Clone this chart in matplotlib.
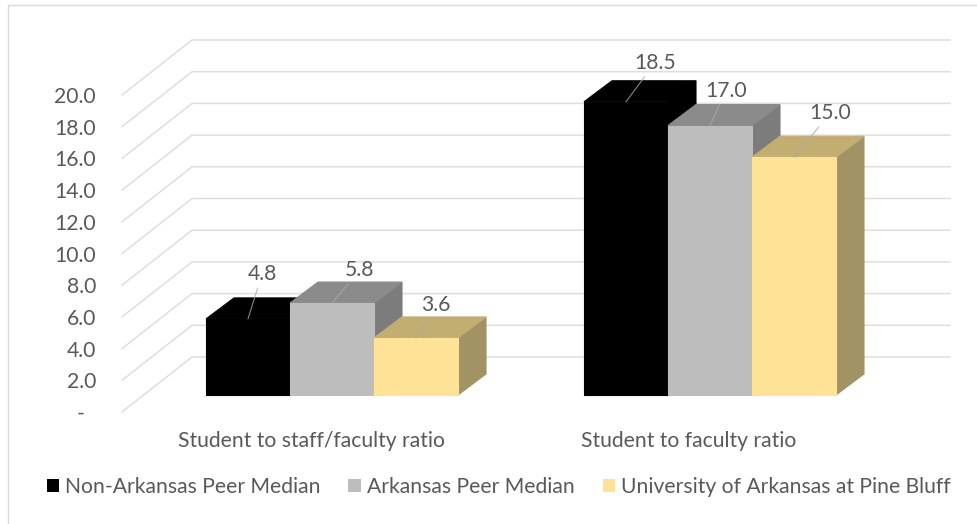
import numpy as np
import matplotlib
matplotlib.use('Agg')
import matplotlib.pyplot as plt
from matplotlib.patches import Polygon, Patch

categories = ['Student to staff/faculty ratio', 'Student to faculty ratio']
series_names = ['Non-Arkansas Peer Median', 'Arkansas Peer Median',
                'University of Arkansas at Pine Bluff']
non_arkansas = [4.8, 18.5]
arkansas = [5.8, 17.0]
uapb = [3.6, 15.0]
y_ticks = [0, 2, 4, 6, 8, 10, 12, 14, 16, 18, 20]

# front, top, side face of each series
colors = [('#000000', '#000000', '#000000'),
          ('#BDBDBD', '#8B8B8B', '#7C7C7C'),
          ('#FEE397', '#C3AE71', '#A29364')]
# label offset from the middle of the bar's front top edge, in pixels
label_offsets = [[(14, 45), (28, 33), (20, 33)],
                 [(29, 39), (16, 35), (36, 44)]]

W, H = 977, 524
PX_X = 378.0      # pixels between the two groups
PX_Y = 15.85      # pixels per unit of value
GREY = '#595959'
GRID = '#DEDEDE'
FS = 15.2

# the chart is a fake 3d one, so depth is just an offset in data units
bar_w = 84 / PX_X
depth_x, depth_y = 28 / PX_X, 21 / PX_Y
floor_x, floor_y = 70 / PX_X, 55 / PX_Y
floor_front = -17 / PX_Y
wall_left = (122 - 332) / PX_X + floor_x
wall_right = (950 - 332) / PX_X

plt.rcParams['font.family'] = ['Lato', 'DejaVu Sans']

fig = plt.figure(figsize=(W / 100, H / 100), dpi=100)
ax = fig.add_axes([0, 0, 1, 1])
ax.set_xlim(-332 / PX_X, (W - 332) / PX_X)
ax.set_ylim(395 / PX_Y - H / PX_Y, 395 / PX_Y)
ax.axis('off')

# picture frame, left and top only
ax.plot([8 / W, 8 / W, 1], [0, 1 - 5 / H, 1 - 5 / H], transform=ax.transAxes,
        color='#DADADA', lw=1)

# gridlines on the wall and floor
for v in y_ticks:
    y0 = v + floor_front
    ax.plot([wall_left - floor_x, wall_left, wall_right],
            [y0, y0 + floor_y, y0 + floor_y], color=GRID, lw=1.1, zorder=1,
            solid_joinstyle='miter')
    label = '-' if v == 0 else '%.1f' % v
    ax.text(wall_left - floor_x - (26 if v else 37) / PX_X, y0 - 2 / PX_Y, label, ha='right',
            va='center', fontsize=FS, color=GREY)

# bars
all_values = [non_arkansas, arkansas, uapb]
for g in range(len(categories)):
    for s, values in enumerate(all_values):
        v = values[g]
        x0 = g + (s - 1.5) * bar_w
        x1 = x0 + bar_w
        front, top, side = colors[s]
        z = 2 + s
        ax.add_patch(Polygon([(x1, 0), (x1 + depth_x, depth_y), (x1 + depth_x, v + depth_y), (x1, v)],
                             fc=side, ec=side, lw=0.8, zorder=z))
        ax.add_patch(Polygon([(x0, v), (x1, v), (x1 + depth_x, v + depth_y), (x0 + depth_x, v + depth_y)],
                             fc=top, ec=top, lw=0.8, zorder=z))
        ax.add_patch(Polygon([(x0, 0), (x1, 0), (x1, v), (x0, v)], fc=front, ec=front, lw=0.8, zorder=z))
        ax.annotate('%.1f' % v, xy=((x0 + x1) / 2, v), xytext=label_offsets[g][s],
                    textcoords='offset pixels', ha='center', va='center',
                    fontsize=FS, color=GREY, zorder=10,
                    arrowprops=dict(arrowstyle='-', color='#A8A8A8', lw=0.8,
                                    shrinkA=1, shrinkB=0, alpha=0.8))

# category labels
for g, cat in enumerate(categories):
    ax.text(g - 21 / PX_X, -46 / PX_Y, cat, ha='center', va='center', fontsize=FS, color=GREY)

handles = [Patch(fc=c[0], ec='none') for c in colors]
leg = ax.legend(handles, series_names, loc='center', ncol=3, frameon=False,
                bbox_to_anchor=(498.5 / W, 1 - 487 / H), fontsize=FS, labelcolor=GREY,
                handlelength=0.57, handleheight=0.57, handletextpad=0.29, columnspacing=1.34,
                borderpad=0, borderaxespad=0)

fig.savefig('out.png', dpi=100)
